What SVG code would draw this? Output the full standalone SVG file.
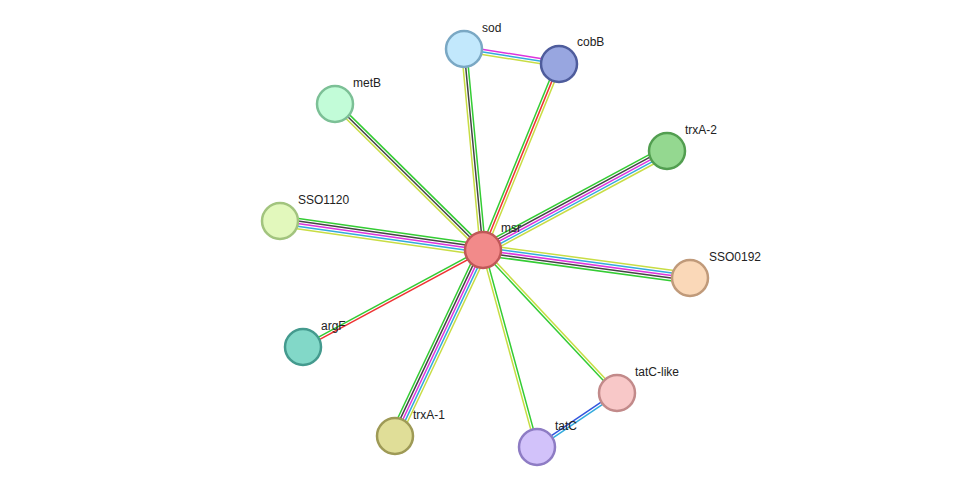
<svg xmlns="http://www.w3.org/2000/svg" width="975" height="493" viewBox="0 0 975 493">
<style>
line{stroke-width:1.5}
.g{stroke:#33cc33}.k{stroke:#444}.y{stroke:#c8dd44}.r{stroke:#ee3333}.m{stroke:#dd33dd}.b{stroke:#33aadd}.d{stroke:#3355dd}
circle{stroke-width:2.5}
text{font-family:"Liberation Sans",Arial,sans-serif;font-size:12px;fill:#222}
</style>
<rect width="975" height="493" fill="#fff"/>
<g id="connectors">
<g transform="translate(483,250) rotate(-95.4)"><line class="y" x1="0" y1="-2.6" x2="202" y2="-2.6"/><line class="k" x1="0" y1="0" x2="202" y2="0"/><line class="g" x1="0" y1="2.6" x2="202" y2="2.6"/></g>
<g transform="translate(483,250) rotate(-67.8)"><line class="g" x1="0" y1="-2.6" x2="201" y2="-2.6"/><line class="r" x1="0" y1="0" x2="201" y2="0"/><line class="y" x1="0" y1="2.6" x2="201" y2="2.6"/></g>
<g transform="translate(483,250) rotate(-135.4)"><line class="y" x1="0" y1="-2.6" x2="208" y2="-2.6"/><line class="k" x1="0" y1="0" x2="208" y2="0"/><line class="g" x1="0" y1="2.6" x2="208" y2="2.6"/></g>
<g transform="translate(483,250) rotate(-28.3)"><line class="g" x1="0" y1="-5.2" x2="209" y2="-5.2"/><line class="k" x1="0" y1="-2.6" x2="209" y2="-2.6"/><line class="m" x1="0" y1="0" x2="209" y2="0"/><line class="b" x1="0" y1="2.6" x2="209" y2="2.6"/><line class="y" x1="0" y1="5.2" x2="209" y2="5.2"/></g>
<g transform="translate(483,250) rotate(-171.9)"><line class="y" x1="0" y1="-5.2" x2="205" y2="-5.2"/><line class="b" x1="0" y1="-2.6" x2="205" y2="-2.6"/><line class="m" x1="0" y1="0" x2="205" y2="0"/><line class="k" x1="0" y1="2.6" x2="205" y2="2.6"/><line class="g" x1="0" y1="5.2" x2="205" y2="5.2"/></g>
<g transform="translate(483,250) rotate(7.7)"><line class="y" x1="0" y1="-5.2" x2="209" y2="-5.2"/><line class="b" x1="0" y1="-2.6" x2="209" y2="-2.6"/><line class="m" x1="0" y1="0" x2="209" y2="0"/><line class="k" x1="0" y1="2.6" x2="209" y2="2.6"/><line class="g" x1="0" y1="5.2" x2="209" y2="5.2"/></g>
<g transform="translate(483,250) rotate(151.7)"><line class="r" x1="0" y1="-1.3" x2="204" y2="-1.3"/><line class="g" x1="0" y1="1.3" x2="204" y2="1.3"/></g>
<g transform="translate(483,250) rotate(115.3)"><line class="y" x1="0" y1="-5.2" x2="206" y2="-5.2"/><line class="b" x1="0" y1="-2.6" x2="206" y2="-2.6"/><line class="m" x1="0" y1="0" x2="206" y2="0"/><line class="k" x1="0" y1="2.6" x2="206" y2="2.6"/><line class="g" x1="0" y1="5.2" x2="206" y2="5.2"/></g>
<g transform="translate(483,250) rotate(74.7)"><line class="g" x1="0" y1="-1.3" x2="204" y2="-1.3"/><line class="y" x1="0" y1="1.3" x2="204" y2="1.3"/></g>
<g transform="translate(483,250) rotate(46.9)"><line class="y" x1="0" y1="-1.3" x2="196" y2="-1.3"/><line class="g" x1="0" y1="1.3" x2="196" y2="1.3"/></g>
<g transform="translate(464,49) rotate(9)"><line class="m" x1="0" y1="-2.6" x2="96" y2="-2.6"/><line class="b" x1="0" y1="0" x2="96" y2="0"/><line class="y" x1="0" y1="2.6" x2="96" y2="2.6"/></g>
<g transform="translate(537,447) rotate(-34)"><line class="d" x1="0" y1="-1.3" x2="97" y2="-1.3"/><line class="b" x1="0" y1="1.3" x2="97" y2="1.3"/></g>
</g>
<g id="msr"><circle cx="483" cy="250" r="18" fill="#f28a8a" stroke="#c05858"/><text x="501" y="232">msr</text></g>
<g id="sod"><circle cx="464" cy="49" r="18" fill="#c2e8fc" stroke="#7aa8c4"/><text x="482" y="32">sod</text></g>
<g id="cobB"><circle cx="559" cy="64" r="18" fill="#98a6e0" stroke="#4e5c9c"/><text x="577" y="46">cobB</text></g>
<g id="metB"><circle cx="335" cy="104" r="18" fill="#c2fcd8" stroke="#7cc096"/><text x="353" y="87">metB</text></g>
<g id="trxA-2"><circle cx="667" cy="151" r="18" fill="#94d890" stroke="#529e50"/><text x="685" y="134">trxA-2</text></g>
<g id="SSO1120"><circle cx="280" cy="221" r="18" fill="#e2f8bc" stroke="#a2c47e"/><text x="298" y="204">SSO1120</text></g>
<g id="SSO0192"><circle cx="690" cy="278" r="18" fill="#fad8b8" stroke="#c09a7a"/><text x="709" y="261">SSO0192</text></g>
<g id="argF"><circle cx="303" cy="347" r="18" fill="#82d8c8" stroke="#449a8e"/><text x="321" y="330">argF</text></g>
<g id="tatC-like"><circle cx="617" cy="393" r="18" fill="#f8c8c8" stroke="#c28a8a"/><text x="635" y="376">tatC-like</text></g>
<g id="trxA-1"><circle cx="395" cy="436" r="18" fill="#e0de98" stroke="#9e9a56"/><text x="413" y="419">trxA-1</text></g>
<g id="tatC"><circle cx="537" cy="447" r="18" fill="#d2c2fa" stroke="#8e7cc4"/><text x="555" y="430">tatC</text></g>
</svg>
